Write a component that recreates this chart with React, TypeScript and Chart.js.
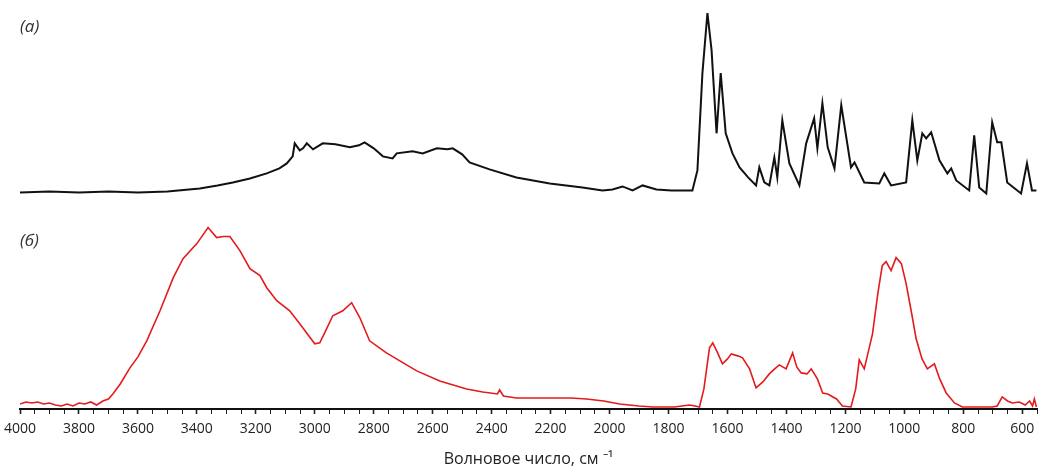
import React, { useEffect, useRef } from "react";
import { Chart, registerables } from "chart.js";

Chart.register(...registerables);

// Wavenumbers (cm^-1) and intensities (a.u.)
const redWave = [4000, 3980, 3960, 3940, 3920, 3900, 3880, 3860, 3840, 3820, 3800, 3780, 3760, 3740, 3719, 3700, 3685, 3660, 3627, 3600, 3570, 3525, 3480, 3447, 3400, 3362, 3333, 3310, 3288, 3254, 3220, 3186, 3163, 3129, 3085, 3051, 3000, 2983, 2960, 2939, 2905, 2875, 2847, 2814, 2757, 2700, 2654, 2576, 2485, 2430, 2380, 2373, 2360, 2316, 2250, 2193, 2130, 2078, 2020, 1966, 1900, 1854, 1780, 1729, 1710, 1695, 1680, 1661, 1650, 1635, 1617, 1600, 1587, 1565, 1549, 1525, 1503, 1480, 1458, 1440, 1424, 1401, 1379, 1365, 1350, 1330, 1316, 1295, 1277, 1260, 1248, 1230, 1210, 1181, 1165, 1153, 1136, 1120, 1108, 1090, 1075, 1062, 1045, 1028, 1010, 994, 975, 960, 940, 922, 898, 880, 858, 830, 803, 760, 702, 685, 668, 650, 634, 610, 590, 575, 565, 559, 552];
const redAbs = [0.05, 0.07, 0.06, 0.07, 0.05, 0.06, 0.04, 0.03, 0.05, 0.03, 0.06, 0.05, 0.07, 0.04, 0.08, 0.1, 0.15, 0.25, 0.41, 0.52, 0.68, 0.98, 1.31, 1.5, 1.65, 1.81, 1.71, 1.72, 1.72, 1.58, 1.4, 1.33, 1.21, 1.08, 0.98, 0.85, 0.65, 0.66, 0.8, 0.93, 0.98, 1.06, 0.91, 0.68, 0.56, 0.46, 0.38, 0.28, 0.2, 0.17, 0.15, 0.19, 0.13, 0.11, 0.11, 0.11, 0.11, 0.1, 0.08, 0.05, 0.03, 0.02, 0.02, 0.04, 0.03, 0.02, 0.2, 0.61, 0.66, 0.57, 0.45, 0.5, 0.55, 0.53, 0.51, 0.4, 0.21, 0.27, 0.35, 0.4, 0.44, 0.4, 0.56, 0.42, 0.36, 0.35, 0.4, 0.3, 0.16, 0.15, 0.13, 0.1, 0.03, 0.02, 0.2, 0.49, 0.4, 0.6, 0.75, 1.15, 1.43, 1.47, 1.38, 1.51, 1.45, 1.25, 0.95, 0.7, 0.5, 0.4, 0.45, 0.3, 0.16, 0.06, 0.02, 0.02, 0.02, 0.03, 0.12, 0.08, 0.06, 0.07, 0.04, 0.08, 0.03, 0.1, 0.02];

const blackWave = [4000, 3900, 3800, 3700, 3600, 3500, 3390, 3330, 3278, 3220, 3163, 3120, 3095, 3075, 3068, 3051, 3040, 3027, 3006, 2973, 2930, 2881, 2850, 2831, 2800, 2769, 2736, 2722, 2668, 2634, 2586, 2550, 2532, 2500, 2475, 2407, 2316, 2203, 2092, 2024, 1990, 1956, 1922, 1888, 1841, 1790, 1729, 1719, 1702, 1685, 1668, 1654, 1637, 1623, 1606, 1583, 1559, 1530, 1503, 1492, 1475, 1458, 1441, 1431, 1414, 1390, 1356, 1333, 1306, 1295, 1278, 1260, 1237, 1214, 1181, 1169, 1136, 1085, 1068, 1045, 994, 973, 956, 939, 926, 909, 881, 854, 841, 824, 780, 763, 746, 722, 702, 685, 671, 651, 604, 584, 567, 552];
const blackAbs = [0.0, 0.01, 0.0, 0.01, 0.0, 0.01, 0.04, 0.07, 0.1, 0.14, 0.19, 0.24, 0.29, 0.36, 0.49, 0.42, 0.44, 0.49, 0.43, 0.49, 0.48, 0.45, 0.47, 0.5, 0.44, 0.36, 0.34, 0.39, 0.41, 0.39, 0.44, 0.43, 0.44, 0.38, 0.3, 0.23, 0.15, 0.09, 0.05, 0.02, 0.03, 0.06, 0.02, 0.07, 0.03, 0.02, 0.02, 0.02, 0.22, 1.19, 1.79, 1.42, 0.59, 1.19, 0.59, 0.39, 0.25, 0.15, 0.07, 0.25, 0.1, 0.07, 0.35, 0.15, 0.72, 0.29, 0.07, 0.49, 0.74, 0.44, 0.89, 0.45, 0.24, 0.87, 0.25, 0.3, 0.1, 0.09, 0.19, 0.07, 0.1, 0.72, 0.32, 0.59, 0.54, 0.6, 0.32, 0.19, 0.24, 0.12, 0.02, 0.57, 0.05, -0.01, 0.7, 0.5, 0.5, 0.1, -0.01, 0.29, 0.02, 0.02];

const BLACK_OFFSET = 2.16;
const xTickStep = 50;
const xLabelStep = 200;
const xMin = 550;
const xMax = 4000;
const axisTitle = "Волновое число, см ⁻¹";
const labelA = "(а)";
const labelB = "(б)";

export default function App() {
  const canvasRef = useRef<HTMLCanvasElement | null>(null);

  useEffect(() => {
    document.body.style.margin = "0";
    const canvas = canvasRef.current;
    if (!canvas) return;
    const redData = redWave.map((w, i) => ({ x: w, y: redAbs[i] }));
    const blackData = blackWave.map((w, i) => ({ x: w, y: blackAbs[i] + BLACK_OFFSET }));
    const isMajor = (v: number) => v % xLabelStep === 0;
    const chart = new Chart(canvas, {
      type: "line",
      data: {
        datasets: [
          {
            label: "б",
            data: redData,
            borderColor: "#e41a1c",
            borderWidth: 1.6,
            pointRadius: 0,
            tension: 0,
          },
          {
            label: "а",
            data: blackData,
            borderColor: "#111111",
            borderWidth: 2,
            pointRadius: 0,
            tension: 0,
          },
        ],
      },
      options: {
        animation: false,
        responsive: false,
        maintainAspectRatio: false,
        layout: { padding: { left: 20, right: 2, top: 8, bottom: 1 } },
        plugins: { legend: { display: false }, tooltip: { enabled: false } },
        scales: {
          x: {
            type: "linear",
            reverse: true,
            min: xMin,
            max: xMax,
            afterFit: (scale: any) => {
              scale.paddingLeft = 0;
              scale.paddingRight = 0;
            },
            grid: {
              display: true,
              drawOnChartArea: false,
              drawTicks: true,
              tickLength: 5,
              tickColor: "#222",
              tickWidth: (ctx: any) => (ctx.tick && isMajor(ctx.tick.value) ? 1.6 : 1),
            },
            border: { display: true, color: "#111", width: 2 },
            ticks: {
              stepSize: xTickStep,
              autoSkip: false,
              maxRotation: 0,
              color: "#222",
              padding: 7,
              font: { family: "'Open Sans', sans-serif", size: 14 },
              callback: (v: any) => (isMajor(Number(v)) ? String(v) : ""),
            },
            title: {
              display: true,
              text: axisTitle,
              color: "#222",
              font: { family: "'Open Sans', sans-serif", size: 16 },
              padding: { top: 5, bottom: 0 },
            },
          },
          y: {
            display: false,
            min: 0,
            max: 4.0,
          },
        },
      },
    });
    return () => chart.destroy();
  }, []);

  const labelStyle: React.CSSProperties = {
    position: "absolute",
    left: 20,
    fontFamily: "'Open Sans', sans-serif",
    fontStyle: "italic",
    fontSize: 17,
    color: "#333",
    lineHeight: "20px",
  };

  return (
    <div style={{ position: "relative", width: 1039, height: 470, background: "#fff" }}>
      <canvas ref={canvasRef} width={1039} height={470} style={{ width: 1039, height: 470, display: "block" }} />
      <div style={{ ...labelStyle, top: 16 }}>{labelA}</div>
      <div style={{ ...labelStyle, top: 230 }}>{labelB}</div>
    </div>
  );
}
